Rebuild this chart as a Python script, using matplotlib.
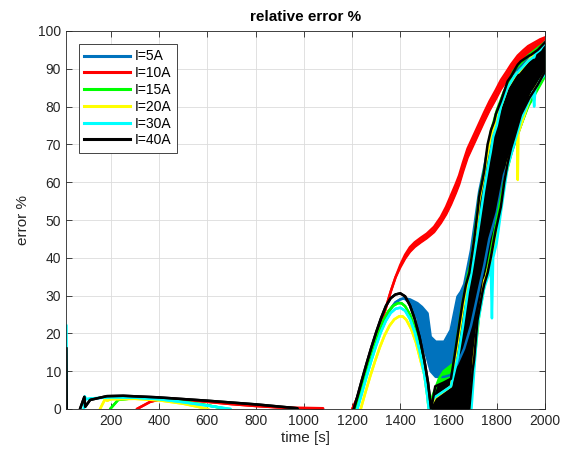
import matplotlib
matplotlib.use("Agg")
import matplotlib.pyplot as plt
from matplotlib.lines import Line2D

plt.rcParams['font.family'] = ['Liberation Sans', 'DejaVu Sans']

labels = ["I=5A", "I=10A", "I=15A", "I=20A", "I=30A", "I=40A"]
colors = ["#0072BD", "#FF0000", "#00FF00", "#FFFF00", "#00FFFF", "#000000"]

# ---- I=5A (blue) ----
blue_t  = [1200, 1220, 1240, 1260, 1280, 1300, 1320, 1340, 1360, 1380, 1400, 1416, 1440, 1471, 1490, 1513, 1526, 1547, 1582, 1609, 1637, 1651, 1665, 1693, 1727, 1748, 1769, 1800, 1830, 1900, 1950, 2000]
blue_hi = [-10, 0, 4.5, 9, 13.3, 17.3, 21, 24.1, 26.5, 28.2, 29, 29.3, 29, 28, 27, 25.3, 19.1, 17.8, 17.8, 20.9, 29.7, 31, 33, 42, 57.5, 64, 71, 78, 84, 91, 94, 96.5]
blue_lo = [-10, 0, 4.5, 9, 13.3, 17.3, 21, 24.1, 26.5, 28.2, 29, 29.3, 28, 24, 18, 13, 10, 8.5, 8.5, 9, 12, 14, 16, 22, 32, 38, 45, 52, 62, 75, 84, 88]

# ---- I=10A (red) ----
red_t  = [300, 308, 363, 420, 500, 600, 700, 800, 900, 1000, 1080, 1100, 1195,
          1201, 1222, 1240, 1260, 1280, 1300, 1320, 1340, 1360, 1380, 1400, 1420, 1440, 1460, 1485, 1510, 1540, 1568, 1590, 1610, 1630, 1644, 1660, 1679, 1710, 1748, 1770, 1796, 1817, 1840, 1860, 1887, 1910, 1930, 1955, 1980, 2000]
red_hi = [-10, 0, 1.9, 2.8, 2.5, 1.9, 1.3, 0.8, 0.4, 0.3, 0.2, -10, -10,
          0, 3, 6.5, 10.5, 14.5, 18.5, 22.6, 26.7, 31, 34.8, 38.1, 40.8, 42.8, 44.1, 45.3, 46.4, 48.2, 50.8, 53.5, 56.5, 59.5, 61.8, 65.2, 68.9, 73.2, 78.5, 81.4, 84.4, 87.0, 89.2, 91.2, 93.5, 94.9, 96.0, 96.9, 97.8, 98.3]
red_lo = [-10, 0, 1.9, 2.8, 2.5, 1.9, 1.3, 0.8, 0.4, 0.0, -0.2, -10, -10,
          0, 3, 6.5, 10.5, 14.5, 18.5, 22.6, 26.7, 31, 34.8, 37.5, 39.8, 41.6, 42.9, 44.1, 45.2, 46.8, 49.2, 51.5, 54.1, 57.1, 59.4, 62.8, 66.5, 70.8, 76.1, 79.0, 82.0, 84.6, 86.8, 88.8, 91.1, 92.5, 93.6, 94.7, 95.8, 96.7]

# ---- I=15A (green) ----
green_t  = [190, 197, 230, 300, 400, 500, 600, 680, 690, 1205,
            1213, 1230, 1250, 1270, 1290, 1310, 1330, 1350, 1370, 1390, 1405, 1420, 1440, 1460, 1480, 1500, 1515, 1525,
            1560, 1580, 1600, 1620, 1637, 1655, 1680, 1690, 1700, 1727, 1750, 1776, 1800, 1830, 1870, 1930, 2000]
green_hi = [-10, 0, 2.4, 2.9, 2.6, 1.9, 1.0, 0, -10, -10,
            0, 3.5, 8, 12.5, 16.5, 20.2, 23.4, 25.8, 27.3, 28, 28, 27.2, 25, 21.5, 16.8, 10.6, 4.5, 2,
            8, 10, 11, 12, 19, 27, 35.5, 38, 42, 56, 64, 73.5, 79, 84, 89.5, 93.5, 97]
green_lo = [-10, 0, 2.4, 2.9, 2.6, 1.9, 1.0, 0, -10, -10,
            0, 3.5, 8, 12.5, 16.5, 20.2, 23.4, 25.8, 27.3, 28, 28, 27.2, 25, 21.5, 16.8, 10.6, 4.5, -5,
            -10, -10, -10, -10, -10, -10, -10, 0, 8, 25, 33, 42, 50, 60, 70, 80, 88]

# ---- I=20A (yellow) ----
yellow_t  = [150, 155, 175, 185, 200, 300, 400, 500, 604, 620, 1225,
             1236, 1255, 1275, 1295, 1315, 1335, 1355, 1375, 1395, 1410, 1425, 1445, 1465, 1485, 1500, 1512, 1518,
             1545, 1610, 1637, 1658, 1679, 1690, 1706, 1720, 1727, 1748, 1755, 1776, 1817, 1845, 1884, 1887, 1890, 1942, 2000]
yellow_hi = [-10, 0, 2.5, 2.2, 2.6, 2.7, 2.3, 1.4, 0, -10, -10,
             0, 4.3, 8.6, 12.6, 16.3, 19.5, 22, 23.7, 24.5, 24.5, 23.6, 21.2, 17.6, 12.6, 9, 3.5, 0,
             3, 6, 17, 26, 33, 37, 44, 50, 55, 62, 65, 72, 80, 85, 89, 89, 89, 93, 97]
yellow_lo = [-10, 0, 2.5, 2.2, 2.6, 2.7, 2.3, 1.4, 0, -10, -10,
             0, 4.3, 8.6, 12.6, 16.3, 19.5, 22, 23.7, 24.5, 24.5, 23.6, 21.2, 17.6, 12.6, 9, 3.5, 0,
             -10, -10, -10, -10, -10, 0, 14, 22, 25, 34, 35, 40, 53, 65, 73, 60.6, 73, 83, 89]

# ---- I=30A (cyan) ----
cyan_t  = [15, 17, 85, 88, 92, 96, 120, 200, 300, 400, 500, 600, 696, 720, 1215,
           1222, 1240, 1260, 1280, 1300, 1320, 1340, 1360, 1380, 1400, 1420, 1440, 1460, 1480, 1500, 1512, 1518,
           1540, 1610, 1640, 1660, 1680, 1695, 1720, 1748, 1769, 1775, 1780, 1785, 1800, 1817, 1845, 1872, 1900, 1930, 1950, 1955, 1960, 1980, 2000]
cyan_hi = [22, -10, -10, 0, 3.3, 2.6, 2.8, 3.1, 3.0, 2.6, 1.8, 0.9, 0, -10, -10,
           0, 4, 8.5, 12.8, 16.8, 20.4, 23.3, 25.4, 26.5, 26.8, 26, 23.8, 20.3, 15.5, 9, 3.5, 0,
           3, 6, 14, 22, 31, 36, 46, 58, 66, 68, 70, 72, 75, 80, 85, 88, 90, 92, 93, 93, 94, 95, 97]
cyan_lo = [22, -10, -10, 0, 3.3, 2.6, 2.8, 3.1, 3.0, 2.6, 1.8, 0.9, 0, -10, -10,
           0, 4, 8.5, 12.8, 16.8, 20.4, 23.3, 25.4, 26.5, 26.8, 26, 23.8, 20.3, 15.5, 9, 3.5, 0,
           -10, -10, -10, -10, -10, 0, 22, 32, 36, 38, 24, 40, 44, 52, 64, 70, 76.5, 81, 84, 80, 84.5, 87, 88.5]

# ---- I=40A (black) ----
black_t  = [15, 17, 66, 72, 90, 94, 114, 183, 251, 391, 599, 806, 973, 1000, 1195,
            1207, 1222, 1240, 1260, 1280, 1300, 1320, 1340, 1360, 1380, 1400, 1420, 1440, 1460, 1480, 1500, 1515, 1528,
            1545, 1580, 1610, 1616, 1637, 1658, 1672, 1686, 1700, 1706, 1720, 1727, 1741, 1748, 1755, 1762, 1776, 1789, 1796, 1817, 1831, 1845, 1859, 1872, 1887, 1900, 1935, 1942, 1970, 2000]
black_hi = [16, -10, -10, 0, 3.2, 0.6, 2.4, 3.4, 3.5, 3.1, 2.2, 1.2, 0.2, -10, -10,
            0, 3.3, 7.5, 12, 16.3, 20.3, 24, 27.2, 29.3, 30.3, 30.6, 29.8, 27.4, 23.8, 19.0, 12.8, 7, 0,
            6, 7, 8, 10.3, 19.1, 28, 32.8, 36, 42, 44.7, 52, 56.2, 60.6, 63, 66.7, 70, 73.8, 76, 78, 81.4, 84, 86.7, 88, 89.5, 91.1, 92, 93.5, 93.7, 95, 97]
black_lo = [16, -10, -10, 0, 3.2, 0.6, 2.4, 3.4, 3.5, 3.1, 2.2, 1.2, 0.2, -10, -10,
            0, 3.3, 7.5, 12, 16.3, 20.3, 24, 27.2, 29.3, 30.3, 30.6, 29.8, 27.4, 23.8, 19.0, 12.8, 7, 0,
            -10, -10, -10, -10, -10, -10, -10, 0, 10.3, 13, 23.5, 26, 31, 33, 34.5, 36, 40.3, 45, 47.4, 53.5, 60, 65, 69, 71.7, 75, 77.9, 82.3, 83, 85.8, 89.3]

series = [
    (blue_t, blue_lo, blue_hi),
    (red_t, red_lo, red_hi),
    (green_t, green_lo, green_hi),
    (yellow_t, yellow_lo, yellow_hi),
    (cyan_t, cyan_lo, cyan_hi),
    (black_t, black_lo, black_hi),
]

x_ticks = list(range(200, 2001, 200))
y_ticks = list(range(0, 101, 10))

fig = plt.figure(figsize=(5.68, 4.55), dpi=100)
ax = fig.add_axes([66/568, 1-409/455, (545-66)/568, (409-31)/455])

for (t, lo, hi), c in zip(series, colors):
    ax.fill_between(t, lo, hi, color=c, lw=0)
    ax.plot(t, hi, color=c, lw=1.8)
    ax.plot(t, lo, color=c, lw=1.8)

ax.set_xlim(14, 2000)
ax.set_ylim(0, 100)
ax.set_xticks(x_ticks)
ax.set_yticks(y_ticks)
ax.grid(True, color='#dcdcdc', lw=0.6)
ax.set_axisbelow(True)
ax.tick_params(direction='in', top=True, right=True, length=4, width=0.6,
               colors='#262626', labelsize=10, labelcolor='#262626')
for s in ax.spines.values():
    s.set_color('#262626')
    s.set_linewidth(0.6)

ax.set_title("relative error %", fontsize=11, fontweight='bold', color='black', pad=7)
ax.set_xlabel("time [s]", fontsize=11, color='#262626', labelpad=2)
ax.set_ylabel("error %", fontsize=11, color='#262626', labelpad=6)

handles = [Line2D([0], [0], color=c, lw=2.2) for c in colors]
leg = ax.legend(handles, labels, loc='upper left', bbox_to_anchor=(0.027, 0.966),
                fontsize=10, handlelength=3.3, handletextpad=0.3, labelspacing=0.2,
                borderpad=0.4, borderaxespad=0, fancybox=False, framealpha=1,
                edgecolor='#262626')
leg.get_frame().set_linewidth(0.6)

fig.savefig("out.png", dpi=100)
